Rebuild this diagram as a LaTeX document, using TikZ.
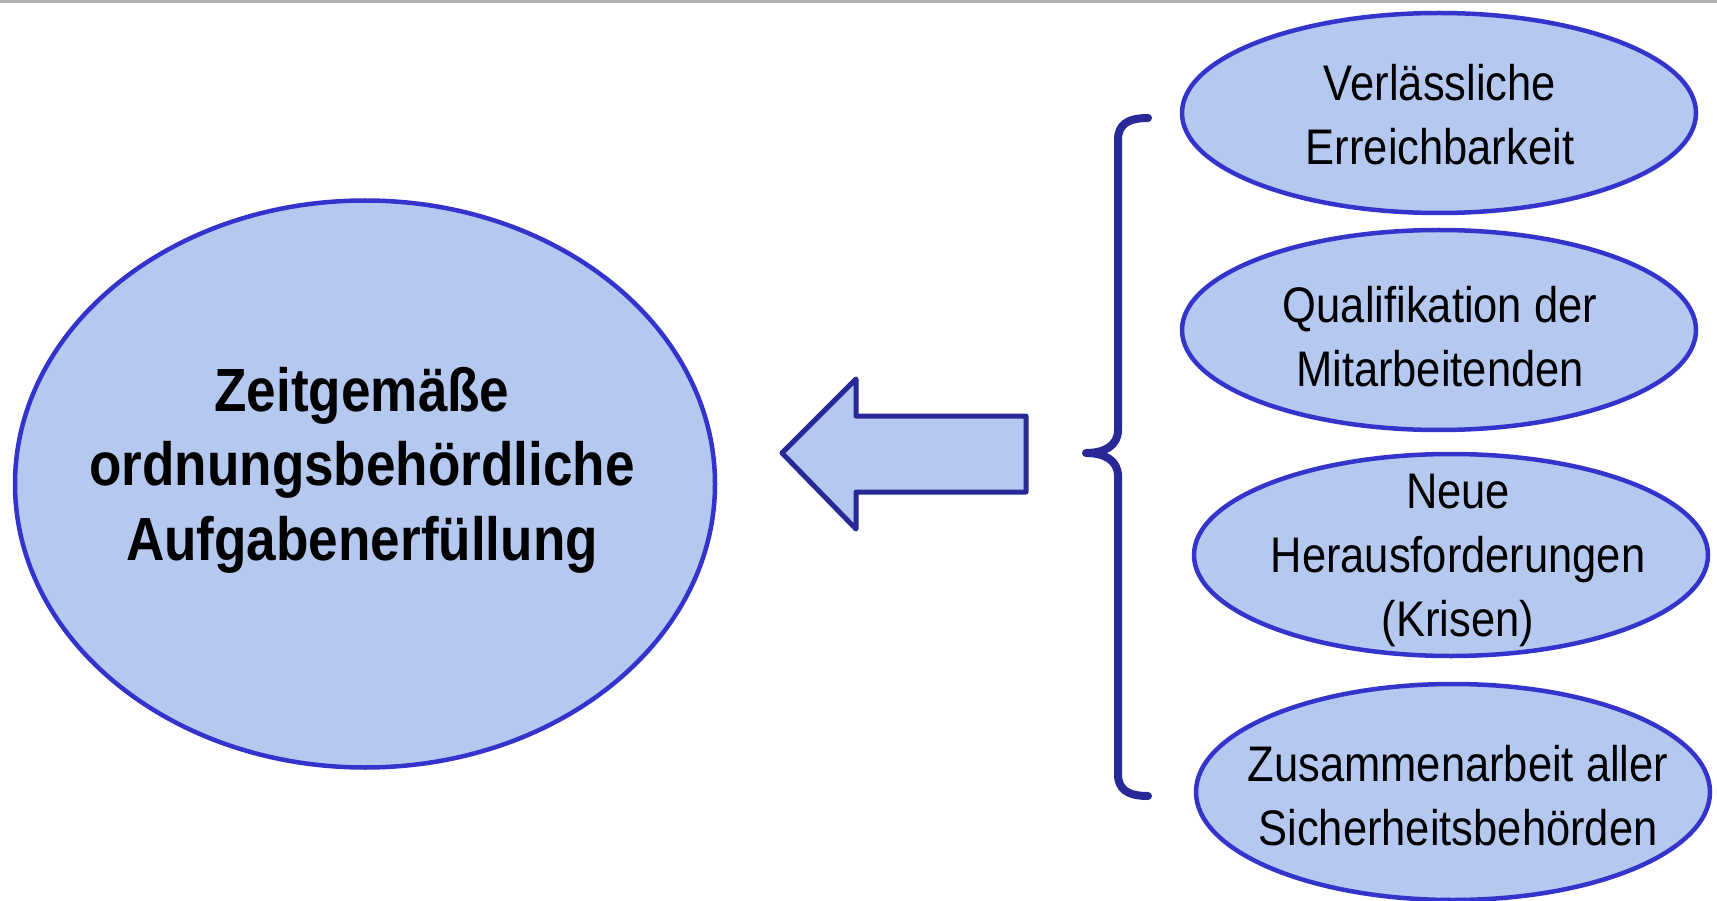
\documentclass[tikz,border=0pt]{standalone}
\usepackage{fontspec}
\setmainfont{Liberation Sans}[FakeStretch=0.87]
\usetikzlibrary{shapes.geometric}
\definecolor{fillblue}{RGB}{180,200,240}
\definecolor{ellblue}{RGB}{52,52,204}
\definecolor{navyline}{RGB}{40,40,150}
\definecolor{topgray}{RGB}{176,176,176}
\begin{document}
\begin{tikzpicture}[x=1pt,y=-1pt,
  oval/.style={ellipse, draw=ellblue, fill=fillblue, line width=4.5pt, inner sep=0pt},
  rtext/.style={align=center, font=\fontsize{50}{64}\selectfont, inner sep=0pt},
  ltext/.style={align=center, font=\fontsize{61}{74.5}\selectfont\bfseries, inner sep=0pt},
  blockarrow/.style={draw=navyline, fill=fillblue, line width=5pt, line join=round},
  bracestyle/.style={draw=navyline, line width=8pt, line cap=round, line join=round}
]
\useasboundingbox (0,0) rectangle (1717,901);
\fill[topgray] (0,0) rectangle (1717,3);

% main ellipse
\node[oval, minimum width=700pt, minimum height=567pt] (main) at (365,484) {};
\node[ltext] (maintext) at (362,470) {Zeitgemäße\\ordnungsbehördliche\\Aufgabenerfüllung};

% right ellipses
\node[oval, minimum width=514pt, minimum height=200pt] (e1) at (1439,113) {};
\node[rtext] (t1) at (1440,115) {Verlässliche\\Erreichbarkeit};
\node[oval, minimum width=514pt, minimum height=200pt] (e2) at (1439,330) {};
\node[rtext] (t2) at (1440,337) {Qualifikation der\\Mitarbeitenden};
\node[oval, minimum width=514pt, minimum height=202pt] (e3) at (1451,555) {};
\node[rtext] (t3) at (1458,560) {Neue\\Herausforderungen\\(Krisen)};
\node[oval, minimum width=514pt, minimum height=216pt] (e4) at (1453,792) {};
\node[rtext] (t4) at (1458,796) {Zusammenarbeit aller\\Sicherheitsbehörden};

% block arrow
\draw[blockarrow] (782,453) -- (856,379) -- (856,416) -- (1026,416) -- (1026,492)
  -- (856,492) -- (856,529) -- cycle;

% brace
\draw[bracestyle] (1148,118) .. controls (1127,118) and (1118,125) .. (1118,140)
  -- (1118,430) .. controls (1118,446) and (1104,453) .. (1086,453)
  .. controls (1104,453) and (1118,460) .. (1118,476)
  -- (1118,774) .. controls (1118,789) and (1127,796) .. (1148,796);
\end{tikzpicture}
\end{document}
